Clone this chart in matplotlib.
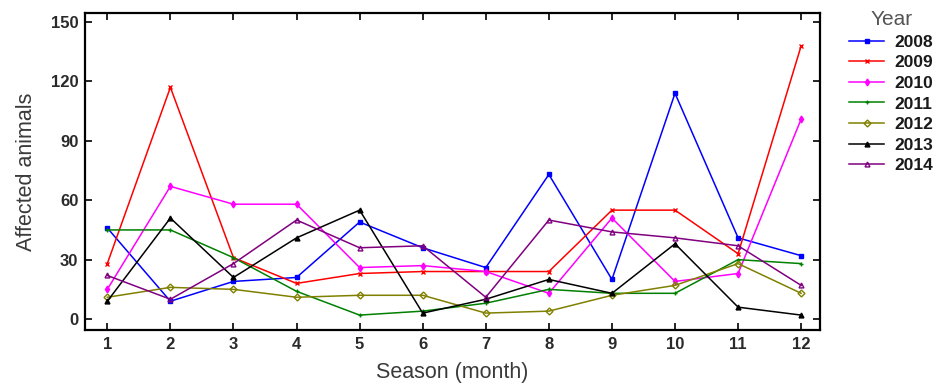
import numpy as np
import matplotlib.pyplot as plt

plt.rcParams['font.family'] = ['Liberation Sans', 'DejaVu Sans']

months = [1, 2, 3, 4, 5, 6, 7, 8, 9, 10, 11, 12]
years = ['2008', '2009', '2010', '2011', '2012', '2013', '2014']

y2008 = [46, 9, 19, 21, 49, 36, 26, 73, 20, 114, 41, 32]
y2009 = [28, 117, 31, 18, 23, 24, 24, 24, 55, 55, 33, 138]
y2010 = [15, 67, 58, 58, 26, 27, 24, 13, 51, 19, 23, 101]
y2011 = [45, 45, 31, 14, 2, 4, 8, 15, 13, 13, 30, 28]
y2012 = [11, 16, 15, 11, 12, 12, 3, 4, 12, 17, 28, 13]
y2013 = [9, 51, 21, 41, 55, 3, 10, 20, 13, 38, 6, 2]
y2014 = [22, 10, 28, 50, 36, 37, 11, 50, 44, 41, 37, 17]

series = [y2008, y2009, y2010, y2011, y2012, y2013, y2014]
colors = ['#0000ff', '#ff0000', '#ff00ff', '#008000', '#808000', '#000000', '#800080']
markers = ['s', 'x', 'd', '+', 'D', '^', '^']
fills = ['full', 'full', 'full', 'full', 'none', 'full', 'none']

fig = plt.figure(figsize=(9.47, 3.85), dpi=100)
ax = fig.add_axes([0.09, 0.143, 0.776, 0.823])

for vals, c, m, f, lab in zip(series, colors, markers, fills, years):
    ax.plot(months, vals, color=c, marker=m, fillstyle=f, markersize=3.5,
            markeredgewidth=1, linewidth=1.1, label=lab)

ax.set_xlim(0.65, 12.3)
ax.set_ylim(-5.5, 154.5)
ax.set_xticks(months)
ax.set_yticks([0, 30, 60, 90, 120, 150])
ax.tick_params(direction='in', length=5, width=1.2, top=True, right=True,
               labelsize=12, pad=5)
for t in ax.get_xticklabels() + ax.get_yticklabels():
    t.set_fontweight('bold')
    t.set_color('#2a2a2a')
for s in ax.spines.values():
    s.set_linewidth(1.6)

ax.set_xlabel('Season (month)', fontsize=15.5, color='#3a3a3a', labelpad=7)
ax.set_ylabel('Affected animals', fontsize=15.5, color='#3a3a3a', labelpad=10)

leg = fig.legend(loc='upper left', bbox_to_anchor=(0.886, 1.0), frameon=False,
                 title='Year', fontsize=12.5, handlelength=2.0, handletextpad=0.6,
                 labelspacing=0.31, borderaxespad=0.2)
leg.get_title().set_fontsize(15)
leg.get_title().set_color('#555555')
for t in leg.get_texts():
    t.set_fontweight('bold')
    t.set_color('#1a1a1a')

fig.savefig('out.png', dpi=100)
